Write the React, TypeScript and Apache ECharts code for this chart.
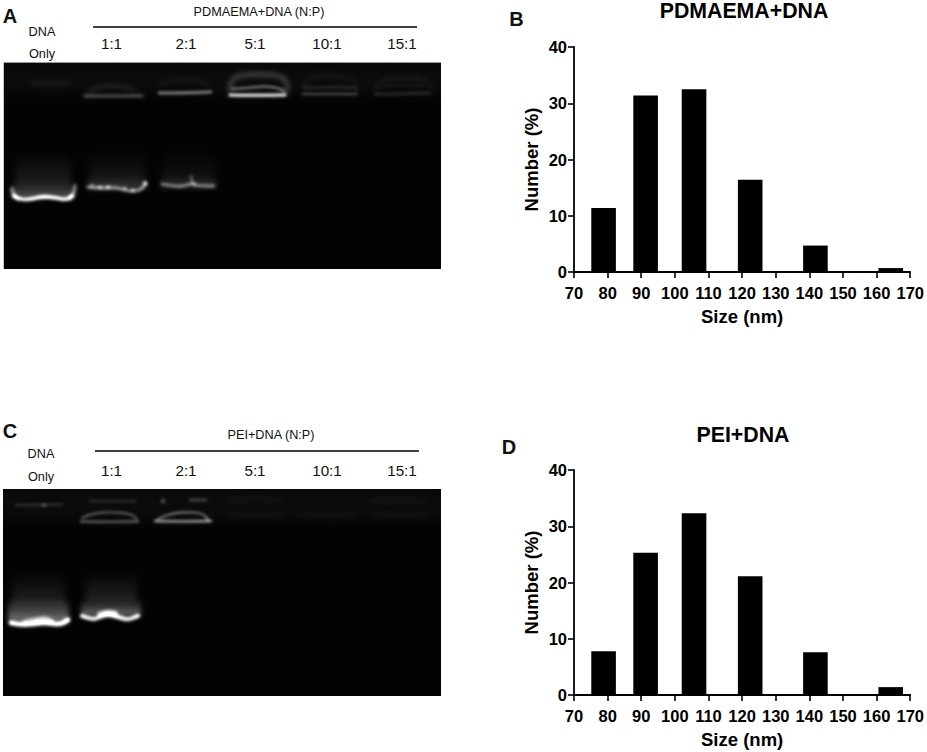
import React, { useEffect, useRef } from "react";
import * as echarts from "echarts";

const FONT = '"Liberation Sans", Arial, sans-serif';

const sizeBins = [78.8, 91.3, 105.7, 122.4, 141.8, 164.2];
const pdmaemaNumbers = [11.4, 31.4, 32.5, 16.4, 4.7, 0.7];
const peiNumbers = [7.8, 25.3, 32.3, 21.1, 7.6, 1.4];
const ratioLabels = ["1:1", "2:1", "5:1", "10:1", "15:1"];

type Pt = [number, number];

const GEL_W = 438;
const GEL_H = 207;
const GEL_X = 3;
const GEL_A_Y = 62;
const GEL_C_Y = 489;

function boxBlur(src: Float32Array, w: number, h: number, r: number) {
  const out = new Float32Array(src.length);
  const win = 2 * r + 1;
  for (let y = 0; y < h; y++) {
    let sum = 0;
    for (let x = -r; x <= r; x++) sum += src[y * w + Math.min(w - 1, Math.max(0, x))];
    for (let x = 0; x < w; x++) {
      out[y * w + x] = sum / win;
      sum += src[y * w + Math.min(w - 1, x + r + 1)] - src[y * w + Math.max(0, x - r)];
    }
  }
  const res = new Float32Array(src.length);
  for (let x = 0; x < w; x++) {
    let sum = 0;
    for (let y = -r; y <= r; y++) sum += out[Math.min(h - 1, Math.max(0, y)) * w + x];
    for (let y = 0; y < h; y++) {
      res[y * w + x] = sum / win;
      sum += out[Math.min(h - 1, y + r + 1) * w + x] - out[Math.max(0, y - r) * w + x];
    }
  }
  return res;
}

class GelPainter {
  layers = new Map<number, CanvasRenderingContext2D>();
  originY: number;
  constructor(originY: number) {
    this.originY = originY;
  }
  layer(radius: number) {
    let ctx = this.layers.get(radius);
    if (!ctx) {
      const c = document.createElement("canvas");
      c.width = GEL_W;
      c.height = GEL_H;
      ctx = c.getContext("2d", { willReadFrequently: true }) as CanvasRenderingContext2D;
      ctx.fillStyle = "#000";
      ctx.fillRect(0, 0, GEL_W, GEL_H);
      ctx.translate(-GEL_X, -this.originY);
      ctx.globalCompositeOperation = "lighter";
      this.layers.set(radius, ctx);
    }
    return ctx;
  }
  line(pts: Pt[], width: number, alpha: number, radius = 1) {
    const ctx = this.layer(radius);
    ctx.strokeStyle = `rgba(255,255,255,${Math.min(1, alpha)})`;
    ctx.lineWidth = width;
    ctx.lineCap = "round";
    ctx.lineJoin = "round";
    ctx.beginPath();
    ctx.moveTo(pts[0][0], pts[0][1]);
    for (let i = 1; i < pts.length - 1; i++) {
      const mx = (pts[i][0] + pts[i + 1][0]) / 2;
      const my = (pts[i][1] + pts[i + 1][1]) / 2;
      ctx.quadraticCurveTo(pts[i][0], pts[i][1], mx, my);
    }
    const last = pts[pts.length - 1];
    ctx.lineTo(last[0], last[1]);
    ctx.stroke();
  }
  smear(x0: number, x1: number, top: number, bottom: number, alpha: number, radius = 3) {
    const ctx = this.layer(radius);
    const g = ctx.createLinearGradient(0, top, 0, bottom);
    g.addColorStop(0, "rgba(255,255,255,0)");
    g.addColorStop(1, `rgba(255,255,255,${alpha})`);
    ctx.fillStyle = g;
    ctx.fillRect(x0, top, x1 - x0, bottom - top);
  }
  spot(x: number, y: number, r: number, alpha: number, radius = 1) {
    const ctx = this.layer(radius);
    ctx.fillStyle = `rgba(255,255,255,${alpha})`;
    ctx.beginPath();
    ctx.arc(x, y, r, 0, Math.PI * 2);
    ctx.fill();
  }
  render(edge: boolean): string {
    const acc = new Float32Array(GEL_W * GEL_H);
    this.layers.forEach((ctx, radius) => {
      const d = ctx.getImageData(0, 0, GEL_W, GEL_H).data;
      let f = new Float32Array(GEL_W * GEL_H);
      for (let i = 0; i < f.length; i++) f[i] = d[i * 4];
      for (let p = 0; p < 3; p++) f = boxBlur(f, GEL_W, GEL_H, radius);
      for (let i = 0; i < f.length; i++) acc[i] += f[i];
    });
    const c = document.createElement("canvas");
    c.width = GEL_W;
    c.height = GEL_H;
    const out = c.getContext("2d") as CanvasRenderingContext2D;
    const img = out.createImageData(GEL_W, GEL_H);
    for (let i = 0; i < acc.length; i++) {
      const v = Math.min(255, 3 + acc[i]);
      img.data[i * 4] = v;
      img.data[i * 4 + 1] = v;
      img.data[i * 4 + 2] = v;
      img.data[i * 4 + 3] = 255;
    }
    out.putImageData(img, 0, 0);
    if (edge) {
      out.fillStyle = "#9a9a9a";
      out.fillRect(0, 0, GEL_W, 1);
      out.fillStyle = "#c8c8c8";
      out.fillRect(0, 0, 1, GEL_H);
    }
    return c.toDataURL("image/png");
  }
}

function paintGelA(g: GelPainter) {
  g.line([[5, 78], [436, 78]], 30, 0.03, 6);
  // upper (well) region
  g.line([[32, 83], [50, 84], [68, 83]], 3, 0.09, 2);
  g.line([[85, 96], [110, 96], [142, 96]], 3.5, 0.26, 1);
  g.line([[88, 92], [98, 86], [118, 86], [135, 90]], 4, 0.1, 2);
  g.line([[159, 93], [185, 93], [211, 92]], 2.4, 0.55, 1);
  g.line([[160, 84], [170, 80], [200, 80], [210, 86]], 3, 0.06, 2);
  g.line([[230, 95], [257, 95.5], [285, 95]], 3, 0.95, 1);
  g.line([[232, 89], [250, 88], [265, 86], [278, 88], [284, 91]], 2, 0.5, 1);
  g.line([[229, 90], [231, 80], [240, 75], [262, 74], [282, 76], [288, 84], [287, 92]], 4, 0.24, 2);
  g.line([[303, 94], [330, 94], [357, 94]], 2.5, 0.26, 1);
  g.line([[304, 88], [330, 87], [357, 88]], 2.5, 0.13, 1);
  g.line([[302, 88], [306, 78], [325, 75], [352, 78], [358, 88]], 3, 0.05, 2);
  g.line([[375, 94], [400, 94], [430, 93]], 2.5, 0.15, 1);
  g.line([[375, 90], [378, 80], [400, 78], [425, 79], [431, 88]], 3, 0.08, 2);
  g.line([[382, 86], [400, 85], [422, 86]], 2.5, 0.06, 1);

  // DNA only
  g.smear(15, 71, 152, 186, 0.11, 3);
  g.smear(12, 75, 182, 198, 0.34, 2);
  g.line([[14, 196], [20, 199.5], [30, 199.5], [42, 196.5], [55, 197.5], [66, 200], [72, 196]], 3.6, 0.95, 1);
  g.line([[12, 189], [13, 195], [18, 199]], 4, 0.42, 1);
  g.line([[75, 186], [74, 194], [70, 199]], 4, 0.38, 1);
  // 1:1
  g.smear(89, 146, 150, 182, 0.08, 3);
  g.smear(88, 146, 177, 189, 0.22, 2);
  g.line([[88, 187], [100, 188.5], [112, 187.5], [120, 188.5], [130, 191.5], [140, 190.5], [146, 184]], 3.2, 0.52, 1);
  for (const [x, y, a] of [[92, 185, 0.22], [100, 187, 0.35], [108, 187, 0.4], [125, 188, 0.3], [133, 190, 0.4], [145, 183, 0.7]]) {
    g.spot(x, y, 2, a, 1);
  }
  // 2:1
  g.smear(162, 215, 150, 181, 0.06, 3);
  g.smear(161, 216, 176, 188, 0.2, 2);
  g.line([[162, 184], [175, 186.5], [185, 186], [192, 183], [198, 186], [214, 186]], 2.8, 0.42, 1);
  g.line([[191, 176], [192, 182], [195, 185]], 2.4, 0.3, 1);
}

function paintGelC(g: GelPainter) {
  g.line([[5, 505], [436, 505]], 30, 0.03, 6);
  // upper (well) region
  g.line([[16, 505], [40, 505], [62, 504.5]], 2, 0.18, 1);
  g.spot(44, 505, 2, 0.22);
  g.line([[90, 501], [110, 501], [135, 501]], 2.6, 0.13, 1);
  g.line([[81, 521.5], [110, 522], [138, 521.5]], 2.4, 0.36, 1);
  g.line([[82, 518], [92, 513], [115, 512], [131, 514], [137, 519]], 1.8, 0.38, 1);
  g.spot(163, 501, 2, 0.35);
  g.line([[190, 500], [198, 500], [206, 500]], 2.4, 0.25, 1);
  g.line([[155, 521], [180, 521.5], [211, 521]], 2.4, 0.62, 1);
  g.line([[158, 519], [170, 513], [195, 512], [205, 515], [208, 520]], 1.8, 0.5, 1);
  g.line([[230, 500], [255, 498], [280, 500]], 4, 0.04, 2);
  g.line([[228, 516], [255, 514], [282, 516]], 4, 0.04, 2);
  g.line([[298, 516], [325, 514], [355, 516]], 4, 0.04, 2);
  g.line([[372, 501], [400, 499], [425, 501]], 4, 0.04, 2);
  g.line([[372, 516], [400, 514], [428, 516]], 4, 0.04, 2);

  // DNA only
  g.smear(12, 65, 572, 606, 0.12, 3);
  g.smear(8, 69, 599, 622, 0.48, 2);
  g.line([[11, 623], [20, 625], [35, 624], [45, 622.5], [60, 625], [68, 620]], 4.6, 1, 1);
  g.line([[24, 622], [35, 620], [45, 618], [52, 621]], 4, 0.5, 1);
  // 1:1
  g.smear(86, 137, 572, 602, 0.13, 3);
  g.smear(81, 141, 599, 616, 0.42, 2);
  g.line([[82, 616], [92, 620], [100, 617], [108, 614], [118, 617], [128, 620], [138, 616]], 4, 0.95, 1);
  g.line([[99, 614], [107, 611], [116, 613]], 4, 0.55, 1);
}

function makeGel(originY: number, paint: (g: GelPainter) => void, edge: boolean) {
  const g = new GelPainter(originY);
  paint(g);
  return g.render(edge);
}

const textItem = (
  x: number,
  y: number,
  text: string,
  fontSize: number,
  fontWeight: string,
  align = "center"
) => ({
  type: "text",
  x,
  y,
  silent: true,
  style: {
    text,
    fill: "#111",
    fontFamily: FONT,
    fontSize,
    fontWeight,
    align,
    verticalAlign: "middle",
  },
});

const ruleItem = (x1: number, x2: number, y: number) => ({
  type: "line",
  silent: true,
  shape: { x1, y1: y, x2, y2: y },
  style: { stroke: "#000", lineWidth: 1.6 },
});

const ratioX = [111.5, 186, 255, 327, 402];

function axisStyle() {
  return {
    axisLine: { show: true, onZero: false, lineStyle: { color: "#000", width: 1.8 } },
    axisTick: { show: true, length: 6, lineStyle: { color: "#000", width: 1.6 } },
    splitLine: { show: false },
    axisLabel: { color: "#000", fontFamily: FONT, fontWeight: "bold", fontSize: 16.5, margin: 7 },
    nameTextStyle: { color: "#000", fontFamily: FONT, fontWeight: "bold", fontSize: 18.5 },
  };
}

function xAxisOf(gridIndex: number) {
  const s = axisStyle();
  return {
    type: "value",
    gridIndex,
    min: 70,
    max: 170,
    interval: 10,
    name: "Size (nm)",
    nameLocation: "middle",
    nameGap: 35,
    ...s,
    axisLabel: { ...s.axisLabel, margin: 12 },
  };
}

function yAxisOf(gridIndex: number) {
  return {
    type: "value",
    gridIndex,
    min: 0,
    max: 40,
    interval: 10,
    name: "Number (%)",
    nameLocation: "middle",
    nameGap: 33,
    ...axisStyle(),
  };
}

function barSeries(index: number, values: number[]) {
  return {
    type: "bar",
    xAxisIndex: index,
    yAxisIndex: index,
    barWidth: 24.6,
    itemStyle: { color: "#000" },
    data: sizeBins.map((s, i) => [s, values[i]]),
    z: 1,
  };
}

export default function App() {
  const ref = useRef<HTMLDivElement>(null);
  useEffect(() => {
    document.body.style.margin = "0";
    document.body.style.background = "#fff";
    if (!ref.current) return;
    const chart = echarts.init(ref.current, undefined, { renderer: "svg" });
    const gelA = makeGel(GEL_A_Y, paintGelA, true);
    const gelC = makeGel(GEL_C_Y, paintGelC, false);
    const titleStyle = { fontFamily: FONT, fontWeight: "bold", fontSize: 21.3, color: "#000" };
    chart.setOption({
      animation: false,
      backgroundColor: "#fff",
      title: [
        { text: "PDMAEMA+DNA", left: 744, top: 0, padding: 0, textAlign: "center", textStyle: titleStyle },
        { text: "PEI+DNA", left: 743, top: 424, padding: 0, textAlign: "center", textStyle: titleStyle },
      ],
      grid: [
        { left: 574, width: 338, top: 47, height: 225 },
        { left: 574, width: 338, top: 470, height: 225 },
      ],
      xAxis: [xAxisOf(0), xAxisOf(1)],
      yAxis: [yAxisOf(0), yAxisOf(1)],
      series: [barSeries(0, pdmaemaNumbers), barSeries(1, peiNumbers)],
      graphic: [
        { type: "image", silent: true, x: GEL_X, y: GEL_A_Y, style: { image: gelA, x: 0, y: 0, width: GEL_W, height: GEL_H } },
        { type: "image", silent: true, x: GEL_X, y: GEL_C_Y, style: { image: gelC, x: 0, y: 0, width: GEL_W, height: GEL_H } },
        textItem(10, 16, "A", 20, "bold"),
        textItem(516.5, 19, "B", 20, "bold"),
        textItem(10, 431, "C", 20, "bold"),
        textItem(509, 447, "D", 20, "bold"),
        textItem(259, 12, "PDMAEMA+DNA (N:P)", 12.7, "normal"),
        textItem(271, 435, "PEI+DNA (N:P)", 12.7, "normal"),
        ruleItem(93, 417, 27),
        ruleItem(95, 419, 451),
        textItem(42, 32, "DNA", 12.7, "normal"),
        textItem(42, 54, "Only", 12.7, "normal"),
        textItem(41, 454, "DNA", 12.7, "normal"),
        textItem(41, 477, "Only", 12.7, "normal"),
        ...ratioLabels.map((t, i) => textItem(ratioX[i], 43, t, 15.2, "normal")),
        ...ratioLabels.map((t, i) => textItem(ratioX[i], 470, t, 15.2, "normal")),
      ],
    });
    return () => chart.dispose();
  }, []);
  return <div ref={ref} style={{ width: 927, height: 752 }} />;
}
